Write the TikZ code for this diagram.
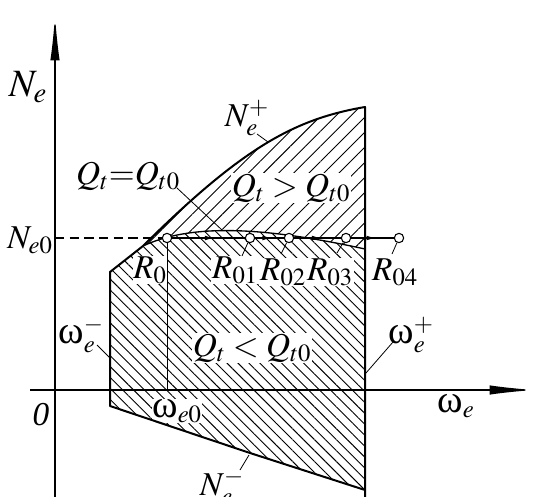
\documentclass[tikz,border=0pt]{standalone}
\usepackage{mathptmx}
\usepackage[no-math]{fontspec}
\setmainfont{Liberation Serif}
\usetikzlibrary{arrows.meta,patterns.meta,decorations.markings}
\newcommand{\omg}{\mbox{\fontsize{29}{30}\selectfont ω}}

\begin{document}
\begin{tikzpicture}[
  x=0.75pt,
  y=-0.75pt,
  >=Latex,
  rim/.style={line width=1.5pt, line join=round},
  axisline/.style={line width=1pt, -{Latex[length=34pt,width=7pt]}},
  leader/.style={line width=.6pt},
  guide/.style={line width=.5pt},
  levelline/.style={line width=.8pt, dash pattern=on 7pt off 4pt},
  upperhatch/.style={pattern={Lines[angle=45,distance=8pt,line width=.7pt]}},
  lowerhatch/.style={pattern={Lines[angle=-45,distance=5.8pt,line width=.7pt]}},
  opmark/.style={circle, draw, fill=white, line width=.8pt, inner sep=0pt, minimum size=7pt},
  midarrow/.style={line width=.9pt, postaction={decorate},
    decoration={markings, mark=at position .58 with {\arrow{Latex[length=7pt,width=3.5pt]}}}},
  lbl/.style={font=\fontsize{25}{30}\selectfont, inner sep=1pt},
  inlbl/.style={lbl, fill=white, inner sep=.5pt},
  biglbl/.style={font=\fontsize{29}{34}\selectfont, inner sep=1pt}
]

\path[use as bounding box] (0,0) rectangle (537,497);
\clip (0,0) rectangle (537,497);

% corners of the operating region
\coordinate (nw) at (110,272);
\coordinate (qa) at (143,246);
\coordinate (ne) at (365,107);
\coordinate (qe) at (365,249);
\coordinate (se) at (365,490);
\coordinate (rb) at (365,497);
\coordinate (bm) at (250,453);
\coordinate (sw) at (110,406);

% hatching
\fill[upperhatch] (qa) .. controls (243,147) and (295,119) .. (ne)
  -- (qe) .. controls (260,226) and (190,224) .. (qa) -- cycle;
\fill[lowerhatch] (qa) .. controls (190,224) and (260,226) .. (qe)
  -- (se) -- (bm) -- (sw) -- (nw) -- cycle;

% labels
\node[biglbl] (lNe) at (28,87) {$N_e$};
\node[lbl] (lNe0) at (30,240) {$N_{e0}$};
\node[lbl] (lO) at (41,415) {\textit{0}};
\node[lbl] (lwe) at (456,406) {$\omg_e$};
\node[inlbl] (lwe0) at (177,411) {$\omg_{e0}$};
\node[lbl] (lNp) at (247,118) {$N_e^+$};
\node[lbl] (lNm) at (222,487) {$N_e^-$};
\node[lbl] (lwm) at (81,335) {$\omg_e^-$};
\node[lbl] (lwp) at (411,335) {$\omg_e^+$};
\node[lbl] (lQeq) at (128,176) {$Q_t{=}Q_{t0}$};
\node[inlbl] (lQgt) at (291,188) {$Q_t>Q_{t0}$};
\node[inlbl] (lQlt) at (252,348) {$Q_t<Q_{t0}$};
\node[inlbl] (lR0) at (150,270) {$R_0$};
\node[inlbl] (lR01) at (235,270) {$R_{01}$};
\node[inlbl] (lR02) at (283,272) {$R_{02}$};
\node[inlbl] (lR03) at (330,272) {$R_{03}$};
\node[lbl] (lR04) at (395,272) {$R_{04}$};

% axes
\coordinate (ybot) at (55,497);
\coordinate (ytop) at (55,15);
\coordinate (xleft) at (30,390);
\coordinate (xright) at (535,390);
\draw[axisline] (ybot) -- (ytop);
\draw[axisline] (xleft) -- (xright);

% boundary
\draw[rim] (rb) -- (ne) .. controls (295,119) and (243,147) .. (qa)
  -- (nw) -- (sw) -- (bm) -- (se);
\draw[line width=1pt] (qa) .. controls (190,224) and (260,226) .. (qe);

% level N_e0 and operating points
\coordinate (ne0) at (55,238);
\coordinate (we0) at (167,390);
\node[opmark] (R0) at (167,238) {};
\node[opmark] (R01) at (250,238) {};
\node[opmark] (R02) at (289,238) {};
\node[opmark] (R03) at (346,238) {};
\node[opmark] (R04) at (399,238) {};
\draw[levelline] (ne0) -- (R0);
\draw[guide] (R0) -- (we0);
\draw[midarrow] (R0) -- (R01);
\draw[midarrow] (R01) -- (R02);
\draw[midarrow] (R02) -- (R03);
\draw[midarrow] (R03) -- (R04);

% leader lines
\coordinate (kNp) at (257,134);
\coordinate (cNp) at (268,142);
\coordinate (kQeq) at (177,188);
\coordinate (cQeq) at (222,230);
\coordinate (kR01) at (242,256);
\coordinate (kR02) at (281,254);
\coordinate (kR03) at (337,253);
\coordinate (kR04) at (392,254);
\coordinate (kwm) at (97,345);
\coordinate (cwm) at (110,358);
\coordinate (kwp) at (393,342);
\coordinate (cwp) at (366,373);
\coordinate (kNm) at (240,470);
\coordinate (cNm) at (249,455);
\draw[leader] (kNp) -- (cNp);
\draw[leader] (kQeq) -- (cQeq);
\draw[leader] (kR01) -- (R01);
\draw[leader] (kR02) -- (R02);
\draw[leader] (kR03) -- (R03);
\draw[leader] (kR04) -- (R04);
\draw[leader] (kwm) -- (cwm);
\draw[leader] (kwp) -- (cwp);
\draw[leader] (kNm) -- (cNm);
\end{tikzpicture}
\end{document}
